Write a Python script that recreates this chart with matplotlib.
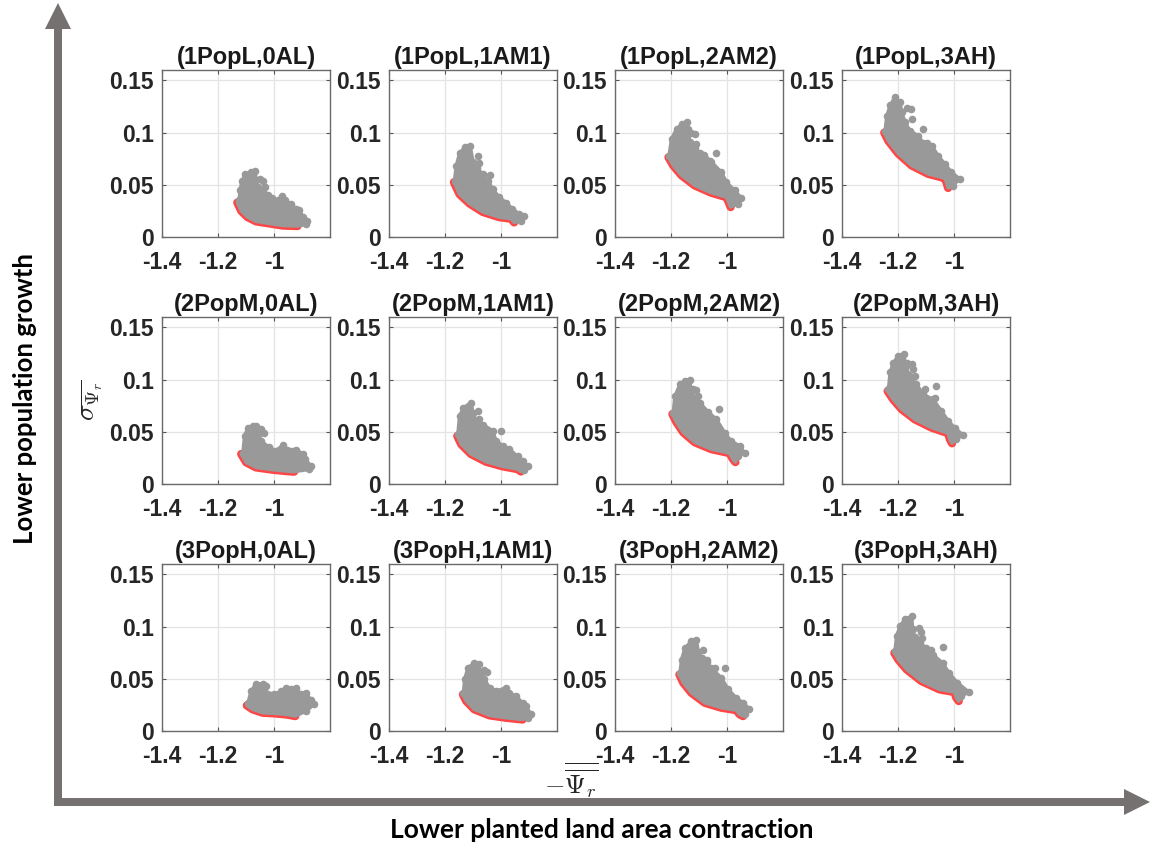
import matplotlib
matplotlib.use("Agg")
import matplotlib.pyplot as plt
from matplotlib.patches import FancyArrow, Polygon

# panel titles, row by row
titles = ["(1PopL,0AL)", "(1PopL,1AM1)", "(1PopL,2AM2)", "(1PopL,3AH)",
          "(2PopM,0AL)", "(2PopM,1AM1)", "(2PopM,2AM2)", "(2PopM,3AH)",
          "(3PopH,0AL)", "(3PopH,1AM1)", "(3PopH,2AM2)", "(3PopH,3AH)"]

x_ticks = [-1.4, -1.2, -1.0]
x_ticklabels = ["-1.4", "-1.2", "-1"]
y_ticks = [0, 0.05, 0.1, 0.15]
y_ticklabels = ["0", "0.05", "0.1", "0.15"]

# red non-dominated front (x, y) per panel
front_1L_0AL = [(-1.131, 0.033), (-1.117, 0.025), (-1.094, 0.019), (-1.064, 0.015),
                (-1.017, 0.013), (-0.969, 0.011), (-0.916, 0.0105)]
front_1L_1AM1 = [(-1.168, 0.0525), (-1.148, 0.041), (-1.112, 0.032), (-1.065, 0.024),
                 (-1.006, 0.019), (-0.964, 0.0175), (-0.953, 0.014)]
front_1L_2AM2 = [(-1.209, 0.0764), (-1.192, 0.0685), (-1.162, 0.059), (-1.115, 0.0494),
                 (-1.056, 0.0424), (-1.002, 0.0382), (-0.994, 0.0334), (-0.987, 0.0287)]
front_1L_3AH = [(-1.249, 0.100), (-1.234, 0.092), (-1.199, 0.080), (-1.151, 0.0685),
                (-1.092, 0.0605), (-1.033, 0.0564), (-1.027, 0.0525), (-1.021, 0.047)]
front_2M_0AL = [(-1.117, 0.0287), (-1.099, 0.0207), (-1.064, 0.0159), (-1.005, 0.0137),
                (-0.957, 0.0124), (-0.928, 0.0118)]
front_2M_1AM1 = [(-1.156, 0.046), (-1.142, 0.038), (-1.107, 0.0287), (-1.053, 0.0213),
                 (-0.994, 0.0169), (-0.941, 0.0143), (-0.929, 0.012)]
front_2M_2AM2 = [(-1.195, 0.067), (-1.180, 0.059), (-1.156, 0.0494), (-1.115, 0.040),
                 (-1.056, 0.0334), (-0.991, 0.0296), (-0.979, 0.024), (-0.970, 0.021)]
front_2M_3AH = [(-1.237, 0.089), (-1.217, 0.081), (-1.187, 0.0717), (-1.140, 0.062),
                (-1.080, 0.054), (-1.021, 0.0487), (-1.015, 0.043), (-1.007, 0.039)]
front_3H_0AL = [(-1.097, 0.0245), (-1.076, 0.0207), (-1.040, 0.0175), (-0.999, 0.0169),
                (-0.957, 0.0159), (-0.924, 0.0143)]
front_3H_1AM1 = [(-1.136, 0.035), (-1.124, 0.0287), (-1.095, 0.0207), (-1.041, 0.015),
                 (-0.982, 0.0127), (-0.923, 0.011)]
front_3H_2AM2 = [(-1.170, 0.0541), (-1.156, 0.0462), (-1.127, 0.0366), (-1.079, 0.027),
                 (-1.020, 0.0223), (-0.967, 0.020), (-0.955, 0.016), (-0.943, 0.0143)]
front_3H_3AH = [(-1.213, 0.0748), (-1.199, 0.0685), (-1.169, 0.059), (-1.116, 0.0478),
                (-1.051, 0.0398), (-0.998, 0.0373), (-0.992, 0.032), (-0.983, 0.0287)]

# upper edge of the grey solution cloud, left to right
top_1L_0AL = [(-1.125, 0.035), (-1.121, 0.045), (-1.114, 0.054), (-1.102, 0.060),
              (-1.082, 0.062), (-1.068, 0.063), (-1.064, 0.055), (-1.058, 0.048),
              (-1.040, 0.043), (-1.022, 0.040), (-1.007, 0.037), (-0.987, 0.035),
              (-0.972, 0.039), (-0.960, 0.035), (-0.940, 0.032), (-0.922, 0.027),
              (-0.910, 0.026), (-0.896, 0.019), (-0.883, 0.015), (-0.886, 0.012)]
top_1L_1AM1 = [(-1.166, 0.054), (-1.160, 0.068), (-1.148, 0.080), (-1.130, 0.086),
               (-1.110, 0.087), (-1.100, 0.072), (-1.085, 0.066), (-1.065, 0.060),
               (-1.047, 0.054), (-1.030, 0.046), (-1.006, 0.038), (-0.982, 0.033),
               (-0.959, 0.027), (-0.935, 0.022), (-0.917, 0.020), (-0.929, 0.015)]
top_1L_2AM2 = [(-1.207, 0.078), (-1.198, 0.094), (-1.180, 0.1035), (-1.162, 0.108),
               (-1.144, 0.1105), (-1.138, 0.1035), (-1.133, 0.091), (-1.115, 0.085),
               (-1.098, 0.080), (-1.082, 0.079), (-1.056, 0.072), (-1.020, 0.062),
               (-1.002, 0.0525), (-0.973, 0.0446), (-0.949, 0.0373), (-0.961, 0.032)]
top_1L_3AH = [(-1.246, 0.102), (-1.240, 0.116), (-1.228, 0.126), (-1.211, 0.134),
              (-1.193, 0.129), (-1.187, 0.120), (-1.175, 0.110), (-1.158, 0.102),
              (-1.128, 0.097), (-1.110, 0.090), (-1.080, 0.0876), (-1.057, 0.078),
              (-1.033, 0.070), (-1.009, 0.062), (-0.980, 0.0557), (-1.004, 0.049)]
top_2M_0AL = [(-1.111, 0.030), (-1.105, 0.046), (-1.093, 0.054), (-1.075, 0.0557),
              (-1.063, 0.0557), (-1.058, 0.047), (-1.045, 0.041), (-1.017, 0.035),
              (-0.993, 0.032), (-0.969, 0.037), (-0.952, 0.033), (-0.922, 0.033),
              (-0.898, 0.029), (-0.889, 0.024), (-0.869, 0.0175), (-0.875, 0.014)]
top_2M_1AM1 = [(-1.154, 0.048), (-1.148, 0.065), (-1.134, 0.073), (-1.107, 0.078),
               (-1.100, 0.068), (-1.088, 0.060), (-1.065, 0.057), (-1.030, 0.051),
               (-1.018, 0.0414), (-0.994, 0.0366), (-0.970, 0.0334), (-0.941, 0.0264),
               (-0.923, 0.0223), (-0.905, 0.0169), (-0.917, 0.0137)]
top_2M_2AM2 = [(-1.192, 0.0685), (-1.186, 0.084), (-1.168, 0.0955), (-1.150, 0.099),
               (-1.133, 0.100), (-1.128, 0.088), (-1.115, 0.082), (-1.098, 0.078),
               (-1.067, 0.069), (-1.038, 0.062), (-1.008, 0.049), (-0.985, 0.041),
               (-0.955, 0.0366), (-0.937, 0.0296), (-0.961, 0.027)]
top_2M_3AH = [(-1.234, 0.091), (-1.228, 0.107), (-1.217, 0.116), (-1.199, 0.1226),
              (-1.180, 0.1248), (-1.172, 0.113), (-1.160, 0.104), (-1.135, 0.096),
              (-1.110, 0.086), (-1.075, 0.081), (-1.045, 0.070), (-1.021, 0.0605),
              (-0.998, 0.054), (-0.968, 0.047), (-0.992, 0.043)]
top_3H_0AL = [(-1.093, 0.027), (-1.082, 0.038), (-1.064, 0.0455), (-1.040, 0.045),
              (-1.034, 0.038), (-0.999, 0.035), (-0.976, 0.038), (-0.957, 0.0414),
              (-0.940, 0.0398), (-0.922, 0.0414), (-0.904, 0.035), (-0.886, 0.0366),
              (-0.869, 0.030), (-0.857, 0.0255), (-0.886, 0.019)]
top_3H_1AM1 = [(-1.134, 0.0366), (-1.130, 0.0494), (-1.118, 0.0605), (-1.095, 0.0653),
               (-1.080, 0.064), (-1.072, 0.053), (-1.059, 0.0494), (-1.041, 0.0414),
               (-1.018, 0.0382), (-0.982, 0.0414), (-0.970, 0.0366), (-0.947, 0.0334),
               (-0.923, 0.027), (-0.911, 0.0239), (-0.893, 0.0159), (-0.905, 0.0127)]
top_3H_2AM2 = [(-1.168, 0.0557), (-1.162, 0.0685), (-1.150, 0.0796), (-1.127, 0.086),
               (-1.109, 0.0876), (-1.103, 0.076), (-1.090, 0.070), (-1.073, 0.066),
               (-1.056, 0.060), (-1.020, 0.051), (-0.996, 0.0398), (-0.967, 0.0318),
               (-0.943, 0.027), (-0.920, 0.0213), (-0.937, 0.016)]
top_3H_3AH = [(-1.211, 0.0764), (-1.205, 0.0908), (-1.193, 0.1003), (-1.175, 0.1073),
              (-1.151, 0.1099), (-1.148, 0.098), (-1.140, 0.090), (-1.120, 0.084),
              (-1.101, 0.080), (-1.075, 0.073), (-1.041, 0.0653), (-1.018, 0.0557),
              (-0.988, 0.0462), (-0.947, 0.0373), (-0.974, 0.0334)]

# isolated grey solutions sitting above the cloud
stray_1L_0AL = [(-1.050, 0.0557), (-1.038, 0.0535), (-1.031, 0.048), (-1.007, 0.0366)]
stray_1L_1AM1 = [(-1.083, 0.078), (-1.077, 0.071), (-1.041, 0.059)]
stray_1L_2AM2 = [(-1.127, 0.100), (-1.115, 0.0985), (-1.112, 0.089), (-1.041, 0.0806),
                 (-1.060, 0.073)]
stray_1L_3AH = [(-1.169, 0.124), (-1.155, 0.1226), (-1.151, 0.113), (-1.110, 0.1035),
                (-1.098, 0.090)]
stray_2M_0AL = [(-1.036, 0.049), (-1.045, 0.0525)]
stray_2M_1AM1 = [(-1.083, 0.070), (-1.077, 0.062), (-1.041, 0.049), (-1.000, 0.051)]
stray_2M_2AM2 = [(-1.121, 0.091), (-1.110, 0.090), (-1.102, 0.0845), (-1.030, 0.0717)]
stray_2M_3AH = [(-1.169, 0.1162), (-1.151, 0.1146), (-1.145, 0.110), (-1.139, 0.1035),
                (-1.104, 0.091), (-1.063, 0.094), (-1.067, 0.082)]
stray_3H_0AL = [(-1.028, 0.043)]
stray_3H_1AM1 = [(-1.050, 0.057), (-1.060, 0.058)]
stray_3H_2AM2 = [(-1.085, 0.078), (-1.073, 0.0685), (-1.044, 0.0605), (-1.006, 0.0605)]
stray_3H_3AH = [(-1.125, 0.0987), (-1.118, 0.095), (-1.115, 0.089), (-1.083, 0.078),
                (-1.039, 0.0806)]

fronts = [front_1L_0AL, front_1L_1AM1, front_1L_2AM2, front_1L_3AH,
          front_2M_0AL, front_2M_1AM1, front_2M_2AM2, front_2M_3AH,
          front_3H_0AL, front_3H_1AM1, front_3H_2AM2, front_3H_3AH]
tops = [top_1L_0AL, top_1L_1AM1, top_1L_2AM2, top_1L_3AH,
        top_2M_0AL, top_2M_1AM1, top_2M_2AM2, top_2M_3AH,
        top_3H_0AL, top_3H_1AM1, top_3H_2AM2, top_3H_3AH]
strays = [stray_1L_0AL, stray_1L_1AM1, stray_1L_2AM2, stray_1L_3AH,
          stray_2M_0AL, stray_2M_1AM1, stray_2M_2AM2, stray_2M_3AH,
          stray_3H_0AL, stray_3H_1AM1, stray_3H_2AM2, stray_3H_3AH]

GREY = "#999999"
RED = "#ff4646"
W, H = 1153, 846

plt.rcParams.update({
    "font.family": "Liberation Sans",
    "font.weight": "bold",
    "xtick.labelsize": 16.5,
    "ytick.labelsize": 16.5,
    "xtick.color": "#555555",
    "ytick.color": "#555555",
    "xtick.labelcolor": "#262626",
    "ytick.labelcolor": "#262626",
    "axes.titleweight": "bold",
    "mathtext.fontset": "cm",
})
fig = plt.figure(figsize=(W / 100, H / 100), dpi=100)

# overlay in pixel units for the two big direction arrows
over = fig.add_axes([0, 0, 1, 1], zorder=-1)
over.set_xlim(0, W); over.set_ylim(H, 0); over.axis("off")
over.add_patch(FancyArrow(58, 806, 0, -803, width=8, head_width=26, head_length=26,
                          length_includes_head=True, color="#767171", lw=0))
over.add_patch(FancyArrow(54, 802, 1096, 0, width=8, head_width=26, head_length=26,
                          length_includes_head=True, color="#767171", lw=0))
over.text(25, 398, "Lower population growth", rotation=90, ha="center", va="center",
          fontsize=18.5, fontweight="bold", family="Lato")
over.text(602, 830, "Lower planted land area contraction", ha="center", va="center",
          fontsize=19, fontweight="bold", family="Lato")

col_left = [162, 389, 615, 842]
row_top = [70, 317, 564]
aw, ah = 168, 167
axes = []
for i, title in enumerate(titles):
    r, c = divmod(i, 4)
    ax = fig.add_axes([col_left[c] / W, 1 - (row_top[r] + ah) / H, aw / W, ah / H])
    axes.append(ax)
    fr, tp, st = fronts[i], tops[i], strays[i]
    ax.plot([p[0] for p in fr], [p[1] for p in fr], color=RED, lw=6,
            solid_capstyle="round", solid_joinstyle="round", zorder=2)
    ax.add_patch(Polygon(tp + fr[::-1], closed=True, facecolor=GREY, edgecolor=GREY,
                         lw=2.5, joinstyle="round", zorder=3))
    ax.scatter([p[0] for p in tp + st], [p[1] for p in tp + st], s=30, color=GREY,
               lw=0, zorder=4)
    ax.set_xlim(-1.4, -0.8)
    ax.set_ylim(0, 0.16)
    ax.set_xticks(x_ticks, x_ticklabels)
    ax.set_yticks(y_ticks, y_ticklabels)
    ax.grid(True, color="#e3e3e3", lw=0.9, zorder=0)
    ax.set_axisbelow(True)
    ax.tick_params(direction="in", length=3, width=0.8, top=True, right=True)
    ax.tick_params(axis="x", pad=10)
    ax.tick_params(axis="y", pad=6)
    for sp in ax.spines.values():
        sp.set_color("#6a6a6a"); sp.set_linewidth(1.0)
    ax.set_title(title, fontsize=17, color="#1a1a1a", pad=4)

axes[4].set_ylabel(r"$\sigma_{\overline{\Psi_r}}$", fontsize=20, color="#262626", labelpad=2)
fig.text(571 / W, 1 - 781 / H, r"$-\overline{\overline{\mathbf{\Psi}_r}}$", fontsize=19,
         ha="center", va="center", color="#262626")

fig.savefig("out.png", dpi=100)
